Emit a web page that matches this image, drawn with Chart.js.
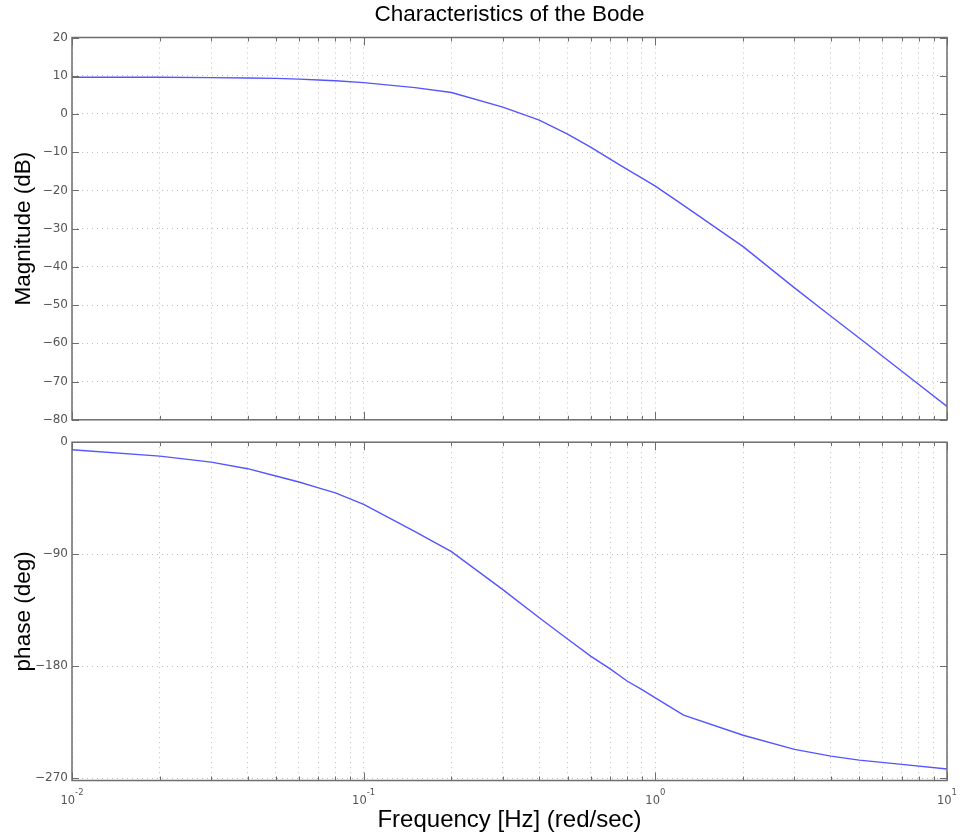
<!DOCTYPE html>
<html>
<head>
<meta charset="utf-8">
<script src="https://cdn.jsdelivr.net/npm/chart.js@4.4.1/dist/chart.umd.min.js"></script>
<style>
  body { margin: 0; background: #fff; }
  #page { position: relative; width: 964px; height: 837px; }
  #magCanvas { position: absolute; left: 0; top: 0; }
  #phaseCanvas { position: absolute; left: 0; top: 431px; }
</style>
</head>
<body>
<div id="page">
  <canvas id="magCanvas" width="964" height="431"></canvas>
  <canvas id="phaseCanvas" width="964" height="406"></canvas>
</div>
<script>
// frequency samples (rad/sec) and the response at each one
const freq = [0.01, 0.02, 0.03, 0.04, 0.05, 0.06, 0.07, 0.08, 0.1, 0.15, 0.2, 0.3, 0.4, 0.5,
  0.6, 0.7, 0.8, 0.9, 1, 1.25, 2, 3, 4, 5, 7, 10];
const magDb = [9.6, 9.6, 9.5, 9.4, 9.3, 9.1, 8.9, 8.7, 8.2, 6.9, 5.6, 1.8, -1.6, -5.3,
  -8.7, -11.8, -14.5, -16.8, -18.9, -23.9, -34.7, -45.5, -52.9, -58.6, -67.3, -76.5];
const phaseDeg = [-6.1, -11.2, -16.0, -21.3, -27.2, -32.0, -36.7, -40.7, -50.0, -71.9, -88.0, -118.5, -141.1, -158.2,
  -172.0, -182.3, -192.0, -199.0, -205.5, -219.5, -235.6, -247.0, -252.4, -255.6, -259.0, -262.8];

// log-axis ticks: every integer multiple inside each decade
const freqTicks = [0.01, 0.02, 0.03, 0.04, 0.05, 0.06, 0.07, 0.08, 0.09,
  0.1, 0.2, 0.3, 0.4, 0.5, 0.6, 0.7, 0.8, 0.9,
  1, 2, 3, 4, 5, 6, 7, 8, 9, 10];
const decadeTicks = [0.01, 0.1, 1, 10];
const magTicks = [-80, -70, -60, -50, -40, -30, -20, -10, 0, 10, 20];
const phaseTicks = [-270, -180, -90, 0];

const FONT = "'Liberation Sans', Arial, Helvetica, sans-serif";
const TICK_FONT = "'DejaVu Sans', 'Liberation Sans', sans-serif";
const LINE_BLUE = 'rgb(85, 85, 255)';
const FRAME = '#6e6e6e';
const GRID = '#bdbdbd';

const isDecade = v => Math.abs(Math.log10(v) - Math.round(Math.log10(v))) < 1e-9;
const minus = v => String(v).replace('-', '\u2212');

// box around the axes with inward tick marks, plus 10^n labels under the x axis
const axesBox = {
  id: 'axesBox',
  afterDatasetsDraw(chart, args, opts) {
    const { ctx, chartArea: a, scales: { x, y } } = chart;
    ctx.save();
    ctx.strokeStyle = FRAME;
    ctx.lineWidth = 1;
    ctx.beginPath();
    freqTicks.forEach(v => {
      const px = Math.round(x.getPixelForValue(v)) + 0.5;
      const len = isDecade(v) ? 8 : 4;
      ctx.moveTo(px, a.top); ctx.lineTo(px, a.top + len);
      ctx.moveTo(px, a.bottom); ctx.lineTo(px, a.bottom - len);
    });
    y.ticks.forEach(t => {
      const py = Math.round(y.getPixelForValue(t.value)) + 0.5;
      ctx.moveTo(a.left, py); ctx.lineTo(a.left + 7, py);
      ctx.moveTo(a.right, py); ctx.lineTo(a.right - 7, py);
    });
    ctx.stroke();
    ctx.lineWidth = 1.5;
    ctx.strokeRect(a.left, a.top, a.right - a.left, a.bottom - a.top);

    if (opts.decadeLabels) {
      ctx.fillStyle = '#555';
      ctx.textBaseline = 'alphabetic';
      ctx.textAlign = 'left';
      decadeTicks.forEach(v => {
        const px = x.getPixelForValue(v);
        const exp = String(Math.round(Math.log10(v)));
        ctx.font = '11.5px ' + TICK_FONT;
        const wBase = ctx.measureText('10').width;
        ctx.font = '8.5px ' + TICK_FONT;
        const wExp = ctx.measureText(exp).width;
        const left = px - (wBase + wExp) / 2;
        ctx.font = '11.5px ' + TICK_FONT;
        ctx.fillText('10', left, a.bottom + 23);
        ctx.font = '8.5px ' + TICK_FONT;
        ctx.fillText(exp, left + wBase, a.bottom + 14);
      });
    }
    ctx.restore();
  }
};

function xAxis(height, title) {
  return {
    type: 'logarithmic',
    min: 0.01,
    max: 10,
    afterBuildTicks: s => { s.ticks = freqTicks.map(v => ({ value: v })); },
    afterFit: s => { s.height = height; },
    ticks: { display: false },
    grid: { color: GRID, lineWidth: 1, drawTicks: false },
    border: { display: false, dash: [1, 4] },
    title: title ? {
      display: true, text: title, color: '#000',
      font: { family: FONT, size: 24 }, padding: { top: 0, bottom: 2 }
    } : { display: false }
  };
}

function yAxis(min, max, tickVals, title) {
  return {
    min: min,
    max: max,
    afterBuildTicks: s => { s.ticks = tickVals.map(v => ({ value: v })); },
    afterFit: s => { s.width = 72; },
    ticks: {
      color: '#555', padding: 4,
      font: { family: TICK_FONT, size: 12 },
      callback: v => minus(v)
    },
    grid: { color: GRID, lineWidth: 1, drawTicks: false },
    border: { display: false, dash: [1, 4] },
    title: {
      display: true, text: title, color: '#000',
      font: { family: FONT, size: 22.5 }, padding: { top: 10, bottom: 0 }
    }
  };
}

function lineData(ys) {
  return {
    datasets: [{
      data: freq.map((f, i) => ({ x: f, y: ys[i] })),
      borderColor: LINE_BLUE,
      borderWidth: 1.4,
      pointRadius: 0,
      tension: 0,
      fill: false
    }]
  };
}

new Chart(document.getElementById('magCanvas').getContext('2d'), {
  type: 'line',
  data: lineData(magDb),
  plugins: [axesBox],
  options: {
    responsive: false,
    animation: false,
    layout: { padding: { left: 0, right: 17, top: 0, bottom: 0 } },
    plugins: {
      legend: { display: false },
      tooltip: { enabled: false },
      title: {
        display: true,
        fullSize: false,
        text: 'Characteristics of the Bode',
        color: '#000',
        font: { family: FONT, size: 22.5, weight: 'normal' },
        padding: { top: 1, bottom: 9.5 }
      },
      axesBox: { decadeLabels: false }
    },
    scales: {
      x: xAxis(7.5, null),
      y: yAxis(-80, 20, magTicks, 'Magnitude (dB)')
    }
  }
});

new Chart(document.getElementById('phaseCanvas').getContext('2d'), {
  type: 'line',
  data: lineData(phaseDeg),
  plugins: [axesBox],
  options: {
    responsive: false,
    animation: false,
    layout: { padding: { left: 0, right: 17, top: 9, bottom: 0 } },
    plugins: {
      legend: { display: false },
      tooltip: { enabled: false },
      axesBox: { decadeLabels: true }
    },
    scales: {
      x: xAxis(56.5, 'Frequency [Hz] (red/sec)'),
      y: yAxis(-272, 0, phaseTicks, 'phase (deg)')
    }
  }
});
</script>
</body>
</html>
